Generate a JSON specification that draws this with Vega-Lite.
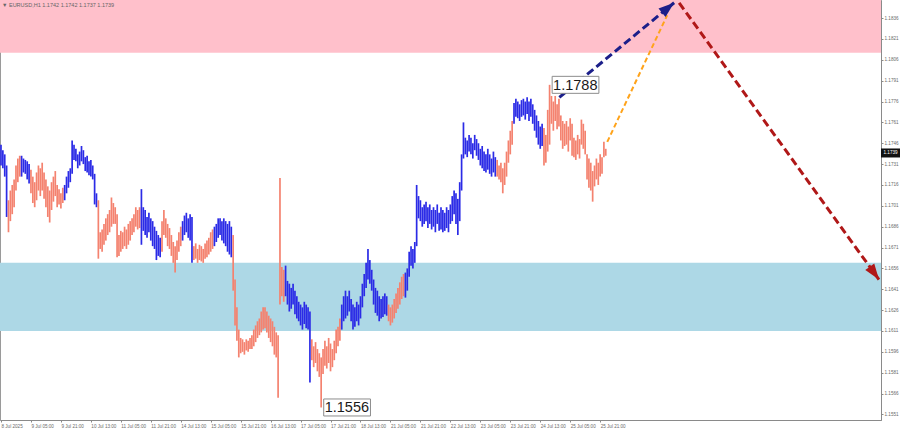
{
  "$schema": "https://vega.github.io/schema/vega-lite/v6.json",
  "width": 881,
  "height": 420,
  "autosize": {"type": "none"},
  "padding": {"left": 0, "top": 0, "right": 19, "bottom": 10},
  "background": "white",
  "config": {
    "view": {"stroke": "#9a9a9a", "strokeWidth": 1},
    "font": "Liberation Sans",
    "axis": {"grid": false, "domainColor": "#8a8a8a", "tickColor": "#8a8a8a", "labelColor": "#6a6a6a", "labelFontSize": 4.6, "tickSize": 2, "title": null, "labelOverlap": false, "labelFlush": false, "labelPadding": 1}
  },
  "datasets": {
    "zones": [
      {"zone": "resistance", "lo": 1.1811, "hi": 1.1849},
      {"zone": "support", "lo": 1.1611, "hi": 1.1660}
    ],
    "bars": [
      {"i":0,"h":1.1745,"l":1.1730,"w":"up"},{"i":1,"h":1.1741,"l":1.1728,"w":"up"},{"i":2,"h":1.1738,"l":1.1722,"w":"up"},{"i":3,"h":1.1730,"l":1.1693,"w":"up"},
      {"i":4,"h":1.1705,"l":1.1682,"w":"down"},{"i":5,"h":1.1712,"l":1.1690,"w":"down"},{"i":6,"h":1.1716,"l":1.1695,"w":"down"},{"i":7,"h":1.1720,"l":1.1700,"w":"down"},{"i":8,"h":1.1730,"l":1.1712,"w":"down"},{"i":9,"h":1.1735,"l":1.1718,"w":"down"},{"i":10,"h":1.1737,"l":1.1722,"w":"down"},
      {"i":11,"h":1.1737,"l":1.1722,"w":"up"},{"i":12,"h":1.1735,"l":1.1725,"w":"up"},{"i":13,"h":1.1734,"l":1.1724,"w":"up"},{"i":14,"h":1.1733,"l":1.1720,"w":"up"},{"i":15,"h":1.1731,"l":1.1717,"w":"up"},
      {"i":16,"h":1.1727,"l":1.1710,"w":"down"},{"i":17,"h":1.1722,"l":1.1703,"w":"down"},{"i":18,"h":1.1718,"l":1.1700,"w":"down"},{"i":19,"h":1.1725,"l":1.1705,"w":"down"},{"i":20,"h":1.1730,"l":1.1712,"w":"down"},{"i":21,"h":1.1728,"l":1.1708,"w":"down"},{"i":22,"h":1.1732,"l":1.1712,"w":"down"},{"i":23,"h":1.1725,"l":1.1706,"w":"down"},{"i":24,"h":1.1720,"l":1.1700,"w":"down"},{"i":25,"h":1.1715,"l":1.1693,"w":"down"},{"i":26,"h":1.1712,"l":1.1689,"w":"down"},{"i":27,"h":1.1718,"l":1.1698,"w":"down"},{"i":28,"h":1.1722,"l":1.1704,"w":"down"},{"i":29,"h":1.1726,"l":1.1708,"w":"down"},{"i":30,"h":1.1716,"l":1.1700,"w":"down"},{"i":31,"h":1.1713,"l":1.1702,"w":"down"},{"i":32,"h":1.1710,"l":1.1699,"w":"down"},{"i":33,"h":1.1714,"l":1.1703,"w":"down"},
      {"i":34,"h":1.1716,"l":1.1705,"w":"up"},{"i":35,"h":1.1722,"l":1.1710,"w":"up"},{"i":36,"h":1.1726,"l":1.1714,"w":"up"},{"i":37,"h":1.1728,"l":1.1718,"w":"up"},{"i":38,"h":1.1748,"l":1.1724,"w":"up"},{"i":39,"h":1.1745,"l":1.1734,"w":"up"},{"i":40,"h":1.1742,"l":1.1733,"w":"up"},{"i":41,"h":1.1738,"l":1.1728,"w":"up"},{"i":42,"h":1.1740,"l":1.1730,"w":"up"},{"i":43,"h":1.1744,"l":1.1733,"w":"up"},{"i":44,"h":1.1741,"l":1.1731,"w":"up"},{"i":45,"h":1.1736,"l":1.1726,"w":"up"},{"i":46,"h":1.1737,"l":1.1725,"w":"up"},{"i":47,"h":1.1733,"l":1.1723,"w":"up"},{"i":48,"h":1.1734,"l":1.1722,"w":"up"},{"i":49,"h":1.1730,"l":1.1720,"w":"up"},{"i":50,"h":1.1724,"l":1.1702,"w":"up"},{"i":51,"h":1.1710,"l":1.1700,"w":"up"},
      {"i":52,"h":1.1705,"l":1.1663,"w":"down"},{"i":53,"h":1.1682,"l":1.1670,"w":"down"},{"i":54,"h":1.1684,"l":1.1668,"w":"down"},{"i":55,"h":1.1688,"l":1.1673,"w":"down"},{"i":56,"h":1.1692,"l":1.1676,"w":"down"},{"i":57,"h":1.1695,"l":1.1680,"w":"down"},{"i":58,"h":1.1698,"l":1.1682,"w":"down"},{"i":59,"h":1.1707,"l":1.1686,"w":"down"},{"i":60,"h":1.1703,"l":1.1688,"w":"down"},{"i":61,"h":1.1700,"l":1.1688,"w":"down"},{"i":62,"h":1.1695,"l":1.1664,"w":"down"},{"i":63,"h":1.1680,"l":1.1665,"w":"down"},{"i":64,"h":1.1683,"l":1.1668,"w":"down"},{"i":65,"h":1.1682,"l":1.1670,"w":"down"},{"i":66,"h":1.1686,"l":1.1672,"w":"down"},{"i":67,"h":1.1684,"l":1.1670,"w":"down"},{"i":68,"h":1.1688,"l":1.1673,"w":"down"},{"i":69,"h":1.1690,"l":1.1676,"w":"down"},{"i":70,"h":1.1692,"l":1.1680,"w":"down"},{"i":71,"h":1.1695,"l":1.1682,"w":"down"},{"i":72,"h":1.1700,"l":1.1686,"w":"down"},{"i":73,"h":1.1698,"l":1.1684,"w":"down"},{"i":74,"h":1.1700,"l":1.1685,"w":"down"},
      {"i":75,"h":1.1713,"l":1.1673,"w":"up"},{"i":76,"h":1.1700,"l":1.1683,"w":"up"},{"i":77,"h":1.1698,"l":1.1680,"w":"up"},{"i":78,"h":1.1693,"l":1.1678,"w":"up"},{"i":79,"h":1.1696,"l":1.1682,"w":"up"},{"i":80,"h":1.1692,"l":1.1676,"w":"up"},{"i":81,"h":1.1690,"l":1.1672,"w":"up"},{"i":82,"h":1.1686,"l":1.1670,"w":"up"},{"i":83,"h":1.1683,"l":1.1662,"w":"up"},{"i":84,"h":1.1680,"l":1.1665,"w":"up"},{"i":85,"h":1.1678,"l":1.1664,"w":"up"},
      {"i":86,"h":1.1690,"l":1.1668,"w":"down"},{"i":87,"h":1.1698,"l":1.1680,"w":"down"},{"i":88,"h":1.1692,"l":1.1678,"w":"down"},{"i":89,"h":1.1688,"l":1.1672,"w":"down"},{"i":90,"h":1.1685,"l":1.1670,"w":"down"},{"i":91,"h":1.1680,"l":1.1665,"w":"down"},{"i":92,"h":1.1675,"l":1.1660,"w":"down"},{"i":93,"h":1.1672,"l":1.1653,"w":"down"},{"i":94,"h":1.1676,"l":1.1662,"w":"down"},{"i":95,"h":1.1682,"l":1.1668,"w":"down"},{"i":96,"h":1.1686,"l":1.1672,"w":"down"},
      {"i":97,"h":1.1690,"l":1.1676,"w":"up"},{"i":98,"h":1.1694,"l":1.1680,"w":"up"},{"i":99,"h":1.1696,"l":1.1682,"w":"up"},{"i":100,"h":1.1692,"l":1.1678,"w":"up"},{"i":101,"h":1.1695,"l":1.1676,"w":"up"},{"i":102,"h":1.1693,"l":1.1660,"w":"up"},
      {"i":103,"h":1.1672,"l":1.1662,"w":"down"},{"i":104,"h":1.1674,"l":1.1663,"w":"down"},{"i":105,"h":1.1670,"l":1.1660,"w":"down"},{"i":106,"h":1.1673,"l":1.1662,"w":"down"},{"i":107,"h":1.1672,"l":1.1661,"w":"down"},{"i":108,"h":1.1670,"l":1.1660,"w":"down"},{"i":109,"h":1.1674,"l":1.1663,"w":"down"},{"i":110,"h":1.1676,"l":1.1664,"w":"down"},{"i":111,"h":1.1678,"l":1.1666,"w":"down"},{"i":112,"h":1.1682,"l":1.1668,"w":"down"},{"i":113,"h":1.1684,"l":1.1670,"w":"down"},
      {"i":114,"h":1.1686,"l":1.1672,"w":"up"},{"i":115,"h":1.1688,"l":1.1675,"w":"up"},{"i":116,"h":1.1692,"l":1.1678,"w":"up"},{"i":117,"h":1.1692,"l":1.1680,"w":"up"},{"i":118,"h":1.1690,"l":1.1676,"w":"up"},{"i":119,"h":1.1692,"l":1.1674,"w":"up"},{"i":120,"h":1.1690,"l":1.1672,"w":"up"},{"i":121,"h":1.1688,"l":1.1668,"w":"up"},{"i":122,"h":1.1690,"l":1.1666,"w":"up"},{"i":123,"h":1.1686,"l":1.1664,"w":"up"},
      {"i":124,"h":1.1680,"l":1.1640,"w":"down"},{"i":125,"h":1.1648,"l":1.1615,"w":"down"},{"i":126,"h":1.1628,"l":1.1604,"w":"down"},{"i":127,"h":1.1612,"l":1.1592,"w":"down"},{"i":128,"h":1.1606,"l":1.1595,"w":"down"},{"i":129,"h":1.1605,"l":1.1596,"w":"down"},{"i":130,"h":1.1603,"l":1.1594,"w":"down"},{"i":131,"h":1.1605,"l":1.1597,"w":"down"},{"i":132,"h":1.1604,"l":1.1596,"w":"down"},{"i":133,"h":1.1606,"l":1.1598,"w":"down"},{"i":134,"h":1.1608,"l":1.1598,"w":"down"},{"i":135,"h":1.1612,"l":1.1600,"w":"down"},{"i":136,"h":1.1615,"l":1.1603,"w":"down"},{"i":137,"h":1.1618,"l":1.1606,"w":"down"},{"i":138,"h":1.1620,"l":1.1608,"w":"down"},{"i":139,"h":1.1625,"l":1.1610,"w":"down"},{"i":140,"h":1.1628,"l":1.1612,"w":"down"},{"i":141,"h":1.1628,"l":1.1613,"w":"down"},{"i":142,"h":1.1625,"l":1.1610,"w":"down"},{"i":143,"h":1.1622,"l":1.1606,"w":"down"},{"i":144,"h":1.1620,"l":1.1603,"w":"down"},{"i":145,"h":1.1618,"l":1.1600,"w":"down"},{"i":146,"h":1.1614,"l":1.1594,"w":"down"},{"i":147,"h":1.1610,"l":1.1592,"w":"down"},{"i":148,"h":1.1608,"l":1.1563,"w":"down"},{"i":149,"h":1.1721,"l":1.1630,"w":"down"},{"i":150,"h":1.1657,"l":1.1636,"w":"down"},{"i":151,"h":1.1655,"l":1.1632,"w":"down"},
      {"i":152,"h":1.1658,"l":1.1636,"w":"up"},{"i":153,"h":1.1647,"l":1.1630,"w":"up"},{"i":154,"h":1.1645,"l":1.1625,"w":"up"},{"i":155,"h":1.1642,"l":1.1627,"w":"up"},{"i":156,"h":1.1645,"l":1.1630,"w":"up"},{"i":157,"h":1.1640,"l":1.1623,"w":"up"},{"i":158,"h":1.1636,"l":1.1620,"w":"up"},{"i":159,"h":1.1632,"l":1.1618,"w":"up"},{"i":160,"h":1.1630,"l":1.1615,"w":"up"},{"i":161,"h":1.1628,"l":1.1612,"w":"up"},{"i":162,"h":1.1632,"l":1.1616,"w":"up"},{"i":163,"h":1.1630,"l":1.1613,"w":"up"},{"i":164,"h":1.1628,"l":1.1612,"w":"up"},{"i":165,"h":1.1625,"l":1.1574,"w":"up"},
      {"i":166,"h":1.1605,"l":1.1590,"w":"down"},{"i":167,"h":1.1600,"l":1.1585,"w":"down"},{"i":168,"h":1.1603,"l":1.1588,"w":"down"},{"i":169,"h":1.1598,"l":1.1582,"w":"down"},{"i":170,"h":1.1595,"l":1.1578,"w":"down"},{"i":171,"h":1.1592,"l":1.1556,"w":"down"},{"i":172,"h":1.1598,"l":1.1580,"w":"down"},{"i":173,"h":1.1604,"l":1.1586,"w":"down"},{"i":174,"h":1.1600,"l":1.1584,"w":"down"},{"i":175,"h":1.1606,"l":1.1588,"w":"down"},{"i":176,"h":1.1602,"l":1.1582,"w":"down"},{"i":177,"h":1.1598,"l":1.1585,"w":"down"},{"i":178,"h":1.1604,"l":1.1590,"w":"down"},{"i":179,"h":1.1612,"l":1.1595,"w":"down"},{"i":180,"h":1.1614,"l":1.1600,"w":"down"},{"i":181,"h":1.1620,"l":1.1604,"w":"down"},
      {"i":182,"h":1.1630,"l":1.1612,"w":"up"},{"i":183,"h":1.1636,"l":1.1618,"w":"up"},{"i":184,"h":1.1640,"l":1.1620,"w":"up"},{"i":185,"h":1.1636,"l":1.1622,"w":"up"},{"i":186,"h":1.1640,"l":1.1625,"w":"up"},{"i":187,"h":1.1634,"l":1.1618,"w":"up"},{"i":188,"h":1.1630,"l":1.1612,"w":"up"},{"i":189,"h":1.1628,"l":1.1614,"w":"up"},{"i":190,"h":1.1632,"l":1.1618,"w":"up"},{"i":191,"h":1.1630,"l":1.1615,"w":"up"},{"i":192,"h":1.1636,"l":1.1620,"w":"up"},{"i":193,"h":1.1645,"l":1.1628,"w":"up"},{"i":194,"h":1.1652,"l":1.1636,"w":"up"},{"i":195,"h":1.1660,"l":1.1642,"w":"up"},{"i":196,"h":1.1670,"l":1.1648,"w":"up"},{"i":197,"h":1.1662,"l":1.1645,"w":"up"},{"i":198,"h":1.1655,"l":1.1640,"w":"up"},{"i":199,"h":1.1648,"l":1.1630,"w":"up"},{"i":200,"h":1.1642,"l":1.1624,"w":"up"},{"i":201,"h":1.1640,"l":1.1622,"w":"up"},{"i":202,"h":1.1636,"l":1.1618,"w":"up"},{"i":203,"h":1.1634,"l":1.1620,"w":"up"},{"i":204,"h":1.1636,"l":1.1621,"w":"up"},{"i":205,"h":1.1638,"l":1.1623,"w":"up"},{"i":206,"h":1.1636,"l":1.1622,"w":"up"},
      {"i":207,"h":1.1630,"l":1.1618,"w":"down"},{"i":208,"h":1.1628,"l":1.1615,"w":"down"},{"i":209,"h":1.1630,"l":1.1617,"w":"down"},{"i":210,"h":1.1634,"l":1.1620,"w":"down"},{"i":211,"h":1.1638,"l":1.1624,"w":"down"},{"i":212,"h":1.1642,"l":1.1627,"w":"down"},{"i":213,"h":1.1646,"l":1.1630,"w":"down"},{"i":214,"h":1.1650,"l":1.1634,"w":"down"},{"i":215,"h":1.1652,"l":1.1636,"w":"down"},
      {"i":216,"h":1.1653,"l":1.1635,"w":"up"},{"i":217,"h":1.1656,"l":1.1640,"w":"up"},{"i":218,"h":1.1668,"l":1.1650,"w":"up"},{"i":219,"h":1.1672,"l":1.1658,"w":"up"},{"i":220,"h":1.1670,"l":1.1656,"w":"up"},{"i":221,"h":1.1675,"l":1.1660,"w":"up"},{"i":222,"h":1.1716,"l":1.1672,"w":"up"},{"i":223,"h":1.1708,"l":1.1692,"w":"up"},{"i":224,"h":1.1705,"l":1.1690,"w":"up"},{"i":225,"h":1.1700,"l":1.1686,"w":"up"},{"i":226,"h":1.1702,"l":1.1688,"w":"up"},{"i":227,"h":1.1704,"l":1.1690,"w":"up"},{"i":228,"h":1.1700,"l":1.1685,"w":"up"},{"i":229,"h":1.1702,"l":1.1688,"w":"up"},{"i":230,"h":1.1698,"l":1.1684,"w":"up"},{"i":231,"h":1.1700,"l":1.1686,"w":"up"},{"i":232,"h":1.1698,"l":1.1682,"w":"up"},{"i":233,"h":1.1702,"l":1.1688,"w":"up"},{"i":234,"h":1.1696,"l":1.1683,"w":"up"},{"i":235,"h":1.1700,"l":1.1684,"w":"up"},{"i":236,"h":1.1698,"l":1.1682,"w":"up"},{"i":237,"h":1.1696,"l":1.1683,"w":"up"},{"i":238,"h":1.1700,"l":1.1685,"w":"up"},{"i":239,"h":1.1698,"l":1.1682,"w":"up"},{"i":240,"h":1.1702,"l":1.1688,"w":"up"},{"i":241,"h":1.1708,"l":1.1690,"w":"up"},{"i":242,"h":1.1712,"l":1.1695,"w":"up"},{"i":243,"h":1.1710,"l":1.1688,"w":"up"},{"i":244,"h":1.1706,"l":1.1680,"w":"up"},{"i":245,"h":1.1718,"l":1.1690,"w":"up"},{"i":246,"h":1.1738,"l":1.1712,"w":"up"},{"i":247,"h":1.1761,"l":1.1735,"w":"up"},{"i":248,"h":1.1750,"l":1.1738,"w":"up"},{"i":249,"h":1.1748,"l":1.1736,"w":"up"},{"i":250,"h":1.1752,"l":1.1740,"w":"up"},{"i":251,"h":1.1750,"l":1.1738,"w":"up"},{"i":252,"h":1.1746,"l":1.1735,"w":"up"},{"i":253,"h":1.1752,"l":1.1741,"w":"up"},{"i":254,"h":1.1749,"l":1.1737,"w":"up"},{"i":255,"h":1.1746,"l":1.1734,"w":"up"},{"i":256,"h":1.1742,"l":1.1730,"w":"up"},{"i":257,"h":1.1744,"l":1.1728,"w":"up"},{"i":258,"h":1.1740,"l":1.1726,"w":"up"},{"i":259,"h":1.1738,"l":1.1725,"w":"up"},{"i":260,"h":1.1742,"l":1.1727,"w":"up"},{"i":261,"h":1.1738,"l":1.1724,"w":"up"},{"i":262,"h":1.1735,"l":1.1722,"w":"up"},{"i":263,"h":1.1740,"l":1.1725,"w":"up"},{"i":264,"h":1.1736,"l":1.1722,"w":"up"},
      {"i":265,"h":1.1734,"l":1.1722,"w":"down"},{"i":266,"h":1.1730,"l":1.1720,"w":"down"},{"i":267,"h":1.1732,"l":1.1718,"w":"down"},{"i":268,"h":1.1728,"l":1.1710,"w":"down"},{"i":269,"h":1.1732,"l":1.1716,"w":"down"},{"i":270,"h":1.1740,"l":1.1722,"w":"down"},{"i":271,"h":1.1748,"l":1.1732,"w":"down"},{"i":272,"h":1.1755,"l":1.1738,"w":"down"},{"i":273,"h":1.1762,"l":1.1745,"w":"down"},
      {"i":274,"h":1.1775,"l":1.1760,"w":"up"},{"i":275,"h":1.1778,"l":1.1765,"w":"up"},{"i":276,"h":1.1776,"l":1.1764,"w":"up"},{"i":277,"h":1.1774,"l":1.1762,"w":"up"},{"i":278,"h":1.1777,"l":1.1765,"w":"up"},{"i":279,"h":1.1778,"l":1.1766,"w":"up"},{"i":280,"h":1.1776,"l":1.1763,"w":"up"},{"i":281,"h":1.1779,"l":1.1767,"w":"up"},{"i":282,"h":1.1776,"l":1.1762,"w":"up"},{"i":283,"h":1.1778,"l":1.1765,"w":"up"},{"i":284,"h":1.1774,"l":1.1760,"w":"up"},{"i":285,"h":1.1770,"l":1.1755,"w":"up"},{"i":286,"h":1.1766,"l":1.1750,"w":"up"},{"i":287,"h":1.1762,"l":1.1745,"w":"up"},{"i":288,"h":1.1758,"l":1.1742,"w":"up"},{"i":289,"h":1.1760,"l":1.1744,"w":"up"},
      {"i":290,"h":1.1757,"l":1.1730,"w":"down"},{"i":291,"h":1.1752,"l":1.1732,"w":"down"},{"i":292,"h":1.1770,"l":1.1740,"w":"down"},{"i":293,"h":1.1788,"l":1.1745,"w":"down"},{"i":294,"h":1.1780,"l":1.1760,"w":"down"},{"i":295,"h":1.1776,"l":1.1755,"w":"down"},{"i":296,"h":1.1780,"l":1.1762,"w":"down"},{"i":297,"h":1.1774,"l":1.1756,"w":"down"},{"i":298,"h":1.1778,"l":1.1758,"w":"down"},{"i":299,"h":1.1766,"l":1.1748,"w":"down"},{"i":300,"h":1.1762,"l":1.1742,"w":"down"},{"i":301,"h":1.1760,"l":1.1744,"w":"down"},{"i":302,"h":1.1762,"l":1.1745,"w":"down"},{"i":303,"h":1.1758,"l":1.1740,"w":"down"},{"i":304,"h":1.1764,"l":1.1748,"w":"down"},{"i":305,"h":1.1760,"l":1.1737,"w":"down"},{"i":306,"h":1.1750,"l":1.1736,"w":"down"},{"i":307,"h":1.1748,"l":1.1734,"w":"down"},{"i":308,"h":1.1752,"l":1.1738,"w":"down"},{"i":309,"h":1.1749,"l":1.1735,"w":"down"},{"i":310,"h":1.1763,"l":1.1745,"w":"down"},{"i":311,"h":1.1760,"l":1.1742,"w":"down"},{"i":312,"h":1.1755,"l":1.1738,"w":"down"},{"i":313,"h":1.1738,"l":1.1720,"w":"down"},{"i":314,"h":1.1735,"l":1.1714,"w":"down"},{"i":315,"h":1.1732,"l":1.1712,"w":"down"},{"i":316,"h":1.1726,"l":1.1704,"w":"down"},{"i":317,"h":1.1730,"l":1.1715,"w":"down"},{"i":318,"h":1.1735,"l":1.1720,"w":"down"},{"i":319,"h":1.1732,"l":1.1716,"w":"down"},{"i":320,"h":1.1738,"l":1.1722,"w":"down"},{"i":321,"h":1.1736,"l":1.1724,"w":"down"},{"i":322,"h":1.1747,"l":1.1736,"w":"down"},{"i":323,"h":1.1742,"l":1.1737,"w":"down"}
    ],
    "arrows": [
      {"name": "main", "x0": 298.2, "p0": 1.1779, "x1": 359.5, "p1": 1.1847},
      {"name": "alternative", "x0": 323.8, "p0": 1.1747, "x1": 355.8, "p1": 1.1838},
      {"name": "forecast", "x0": 362.2, "p0": 1.1847, "x1": 468.9, "p1": 1.1648}
    ],
    "labels": [
      {"label": "1.1788", "i": 293, "p": 1.1788},
      {"label": "1.1556", "i": 171, "p": 1.1556}
    ]
  },
  "layer": [
    {
      "data": {"name": "zones"},
      "mark": {"type": "rect"},
      "encoding": {
        "y": {"field": "lo", "type": "quantitative", "scale": {"domain": [1.1547, 1.1849], "nice": false, "zero": false},
          "axis": {"orient": "right", "tickCount": 40, "values": [1.1551,1.1566,1.1581,1.1596,1.1611,1.1626,1.1641,1.1656,1.1671,1.1686,1.1701,1.1716,1.1731,1.1746,1.1761,1.1776,1.1791,1.1806,1.1821,1.1836], "format": ".4f", "labelOverlap": false, "labelFlush": false}},
        "y2": {"field": "hi"},
        "color": {"field": "zone", "type": "nominal", "legend": null,
          "scale": {"domain": ["resistance", "support", "up", "down", "main", "alternative", "forecast"], "range": ["#ffc0cb", "#add8e6", "#2b2be6", "#f4826f", "#1c1f8a", "#ffa31a", "#b01818"]}}
      }
    },
    {
      "data": {"name": "bars"},
      "mark": {"type": "rule", "strokeWidth": 1.7},
      "encoding": {
        "x": {"field": "i", "type": "quantitative", "scale": {"domain": [-0.53, 470], "nice": false, "zero": false},
          "axis": {"orient": "bottom", "tickCount": 40, "values": [0,16,32,48,64,80,96,112,128,144,160,176,192,208,224,240,256,272,288,304,320], "labelAlign": "left", "labelFlush": false, "labelOverlap": false,
            "labelExpr": "['8 Jul 2025','9 Jul 05:00','9 Jul 21:00','10 Jul 13:00','11 Jul 05:00','11 Jul 21:00','14 Jul 13:00','15 Jul 05:00','15 Jul 21:00','16 Jul 13:00','17 Jul 05:00','17 Jul 21:00','18 Jul 13:00','21 Jul 05:00','21 Jul 21:00','22 Jul 13:00','23 Jul 05:00','23 Jul 21:00','24 Jul 13:00','25 Jul 05:00','25 Jul 21:00'][round(datum.value/16)]"}},
        "y": {"field": "l", "type": "quantitative"},
        "y2": {"field": "h"},
        "color": {"field": "w", "type": "nominal", "legend": null}
      }
    },
    {
      "data": {"name": "arrows"},
      "transform": [{"filter": "datum.name === 'alternative'"}],
      "mark": {"type": "rule", "strokeWidth": 2, "strokeDash": [5, 3]},
      "encoding": {
        "x": {"field": "x0", "type": "quantitative"},
        "y": {"field": "p0", "type": "quantitative"},
        "x2": {"field": "x1"},
        "y2": {"field": "p1"},
        "color": {"field": "name", "type": "nominal", "legend": null}
      }
    },
    {
      "data": {"name": "arrows"},
      "transform": [{"filter": "datum.name !== 'alternative'"}],
      "mark": {"type": "rule", "strokeWidth": 3, "strokeDash": [8, 4]},
      "encoding": {
        "x": {"field": "x0", "type": "quantitative"},
        "y": {"field": "p0", "type": "quantitative"},
        "x2": {"field": "x1"},
        "y2": {"field": "p1"},
        "color": {"field": "name", "type": "nominal", "legend": null}
      }
    },
    {
      "data": {"name": "arrows"},
      "transform": [{"filter": "datum.name === 'main'"}],
      "mark": {"type": "point", "filled": true, "opacity": 1, "size": 340, "angle": 50.4, "shape": "M0,0 L0.6,1.7 L-0.6,1.7 Z"},
      "encoding": {
        "x": {"field": "x1", "type": "quantitative"},
        "y": {"field": "p1", "type": "quantitative"},
        "color": {"field": "name", "type": "nominal", "legend": null}
      }
    },
    {
      "data": {"name": "arrows"},
      "transform": [{"filter": "datum.name === 'forecast'"}],
      "mark": {"type": "point", "filled": true, "opacity": 1, "size": 340, "angle": 144.2, "shape": "M0,0 L0.6,1.7 L-0.6,1.7 Z"},
      "encoding": {
        "x": {"field": "x1", "type": "quantitative"},
        "y": {"field": "p1", "type": "quantitative"},
        "color": {"field": "name", "type": "nominal", "legend": null}
      }
    },
    {
      "data": {"name": "labels"},
      "mark": {"type": "point", "filled": true, "opacity": 1, "fill": "white", "stroke": "#8c8c8c", "strokeWidth": 1, "size": 289, "shape": "M0.3,-1 L5.8,-1 L5.8,1 L0.3,1 Z"},
      "encoding": {
        "x": {"field": "i", "type": "quantitative"},
        "y": {"field": "p", "type": "quantitative"}
      }
    },
    {
      "data": {"name": "labels"},
      "mark": {"type": "text", "align": "left", "baseline": "middle", "dx": 3.5, "dy": 1, "fontSize": 14.5, "color": "#1a1a1a", "font": "Liberation Sans"},
      "encoding": {
        "x": {"field": "i", "type": "quantitative"},
        "y": {"field": "p", "type": "quantitative"},
        "text": {"field": "label"}
      }
    },
    {
      "data": {"values": [{"t": "▼ EURUSD,H1  1.1742 1.1742 1.1737 1.1739", "price": 1.1739}]},
      "layer": [
        {
          "mark": {"type": "text", "align": "left", "baseline": "top", "fontSize": 5.5, "color": "#666666", "dx": 2, "dy": 3},
          "encoding": {
            "x": {"datum": -0.53, "type": "quantitative"},
            "y": {"datum": 1.1849, "type": "quantitative"},
            "text": {"field": "t"}
          }
        },
        {
          "mark": {"type": "point", "filled": true, "opacity": 1, "fill": "#111111", "size": 81, "shape": "M0,-1 L4.3,-1 L4.3,1 L0,1 Z"},
          "encoding": {
            "x": {"datum": 470, "type": "quantitative"},
            "y": {"field": "price", "type": "quantitative"}
          }
        },
        {
          "mark": {"type": "text", "align": "left", "baseline": "middle", "fontSize": 4.6, "color": "white", "dx": 2.5},
          "encoding": {
            "x": {"datum": 470, "type": "quantitative"},
            "y": {"field": "price", "type": "quantitative"},
            "text": {"field": "price", "format": ".4f"}
          }
        }
      ]
    }
  ]
}
